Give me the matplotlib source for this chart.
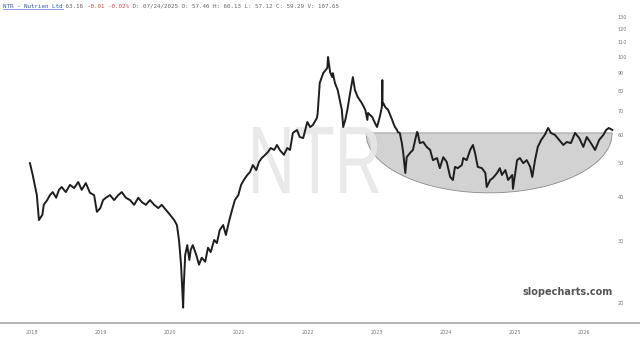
import numpy as np
import matplotlib
matplotlib.use("Agg")
import matplotlib.pyplot as plt
from matplotlib.patches import Polygon, PathPatch
from matplotlib.textpath import TextPath
from matplotlib.font_manager import FontProperties
from matplotlib.transforms import Affine2D, IdentityTransform

# NTR price path (decimal year, price)
years = [2017.97, 2018.01, 2018.04, 2018.07, 2018.10, 2018.15, 2018.17, 2018.22, 2018.26, 2018.30,
         2018.35, 2018.39, 2018.43, 2018.49, 2018.55, 2018.61, 2018.67, 2018.72, 2018.78, 2018.84,
         2018.90, 2018.94, 2018.99, 2019.03, 2019.07, 2019.13, 2019.19, 2019.25, 2019.30, 2019.36,
         2019.42, 2019.48, 2019.54, 2019.59, 2019.65, 2019.71, 2019.77, 2019.83, 2019.88, 2019.94,
         2020.00, 2020.06, 2020.10, 2020.13, 2020.16, 2020.19, 2020.20, 2020.22, 2020.25, 2020.28,
         2020.30, 2020.33, 2020.38, 2020.42, 2020.46, 2020.51, 2020.55, 2020.59, 2020.64, 2020.68,
         2020.72, 2020.77, 2020.81, 2020.86, 2020.90, 2020.94, 2020.99, 2021.03, 2021.07, 2021.12,
         2021.16, 2021.20, 2021.25, 2021.29, 2021.33, 2021.38, 2021.42, 2021.46, 2021.51, 2021.55,
         2021.59, 2021.65, 2021.70, 2021.74, 2021.78, 2021.84, 2021.88, 2021.93, 2021.99, 2022.03,
         2022.07, 2022.13, 2022.14, 2022.17, 2022.22, 2022.28, 2022.29, 2022.32, 2022.35, 2022.36,
         2022.39, 2022.43, 2022.46, 2022.49, 2022.51, 2022.54, 2022.57, 2022.61, 2022.65, 2022.68,
         2022.72, 2022.78, 2022.83, 2022.86, 2022.87, 2022.93, 2022.97, 2023.00, 2023.04, 2023.07,
         2023.077, 2023.081, 2023.09, 2023.12, 2023.16, 2023.22, 2023.23, 2023.26, 2023.29, 2023.30,
         2023.33, 2023.36, 2023.38, 2023.41, 2023.43, 2023.48, 2023.52, 2023.58, 2023.59, 2023.62,
         2023.67, 2023.72, 2023.77, 2023.81, 2023.87, 2023.91, 2023.96, 2024.01, 2024.06, 2024.10,
         2024.13, 2024.17, 2024.23, 2024.25, 2024.30, 2024.35, 2024.39, 2024.42, 2024.46, 2024.52,
         2024.57, 2024.59, 2024.64, 2024.68, 2024.74, 2024.78, 2024.81, 2024.86, 2024.90, 2024.96,
         2024.97, 2025.03, 2025.07, 2025.12, 2025.17, 2025.22, 2025.25, 2025.29, 2025.33, 2025.38,
         2025.43, 2025.48, 2025.52, 2025.58, 2025.64, 2025.70, 2025.75, 2025.81, 2025.87, 2025.93,
         2025.99, 2026.04, 2026.10, 2026.16, 2026.22, 2026.28, 2026.32, 2026.36, 2026.41]
prices = [49.9, 46.2, 43.3, 40.5, 34.4, 35.6, 38.0, 39.2, 40.5, 41.3,
          39.8, 41.9, 42.7, 41.3, 43.3, 42.4, 44.1, 41.9, 43.8, 41.1,
          40.5, 36.3, 37.2, 39.2, 39.8, 40.5, 39.2, 40.5, 41.3, 39.8,
          39.2, 38.0, 39.8, 38.7, 38.0, 39.2, 38.0, 37.2, 38.0, 36.8,
          35.6, 34.4, 33.3, 30.2, 25.7, 19.4, 22.5, 27.4, 29.2, 26.5,
          28.3, 29.2, 27.4, 25.7, 26.9, 26.2, 28.7, 27.9, 30.2, 29.6,
          32.2, 33.3, 31.2, 34.4, 36.8, 39.2, 40.5, 43.3, 44.7, 46.2,
          47.1, 49.3, 47.7, 50.3, 51.6, 52.7, 53.7, 55.1, 54.4, 56.2,
          54.4, 52.7, 55.1, 54.4, 60.8, 62.0, 59.2, 58.8, 65.3, 63.2,
          64.0, 67.1, 69.3, 84.3, 89.9, 93.0, 99.9, 90.5, 87.6, 89.9,
          84.3, 80.5, 75.4, 70.7, 63.2, 66.2, 70.7, 78.9, 87.6, 80.5,
          76.9, 73.9, 70.7, 66.2, 69.3, 67.5, 64.9, 63.2, 67.5, 72.0,
          85.9, 73.0, 73.9, 72.0, 70.7, 66.2, 65.3, 63.2, 62.0, 61.2,
          60.8, 56.9, 53.4, 46.8, 51.9, 53.4, 54.4, 61.2, 60.8, 56.9,
          57.3, 55.5, 54.4, 50.9, 51.6, 48.3, 51.9, 50.3, 45.6, 44.7,
          48.7, 48.3, 49.3, 51.6, 50.9, 54.4, 56.2, 53.4, 48.7, 48.3,
          46.8, 42.7, 44.7, 45.3, 46.8, 48.3, 46.2, 47.7, 44.7, 46.2,
          42.2, 50.9, 51.6, 49.9, 50.9, 48.7, 45.6, 50.9, 55.5, 58.1,
          60.0, 62.8, 60.8, 60.0, 58.1, 56.2, 57.3, 56.9, 60.8, 58.8,
          55.5, 59.2, 56.9, 54.4, 58.1, 60.0, 62.0, 62.8, 62.0]

# rounded-bottom (cup) annotation
cup_start, cup_end = 2022.84, 2026.41
cup_top, cup_bottom = 60.8, 41.1

year_ticks = [2018, 2019, 2020, 2021, 2022, 2023, 2024, 2025, 2026]
price_ticks = [20, 30, 40, 50, 60, 70, 80, 90, 100, 110, 120, 130]

header_parts = [
    ("NTR - Nutrien Ltd", "#3355bb"),
    (" 63.16 ", "#666666"),
    ("-0.01 -0.02%", "#dd4444"),
    (" D: 07/24/2025 O: 57.46 H: 60.13 L: 57.12 C: 59.29 V: 107.65", "#666666"),
]

fig = plt.figure(figsize=(6.4, 3.37), dpi=100)
ax = fig.add_axes([0, 14 / 337, 615 / 640, 323 / 337])
ax.set_yscale("log")
ax.set_xlim(2017.536, 2026.449)
ax.set_ylim(17.55, 145.0)

# cup shape: lower half ellipse in log space
t = np.linspace(cup_start, cup_end, 200)
c = (cup_start + cup_end) / 2
a = (cup_end - cup_start) / 2
lt, lb = np.log(cup_top), np.log(cup_bottom)
curve = np.exp(lt - (lt - lb) * np.sqrt(np.clip(1 - ((t - c) / a) ** 2, 0, 1)))
pts = np.column_stack([np.r_[t, cup_start], np.r_[curve, cup_top]])
ax.add_patch(Polygon(pts, closed=True, facecolor="#d2d2d2", edgecolor="#8a8a8a",
                     linewidth=0.6, zorder=1))

# watermark, squeezed into its box (pixels from bottom-left)
tp = TextPath((0, 0), "NTR", size=100, prop=FontProperties(family="Liberation Sans"))
ext = tp.get_extents()
box_x0, box_x1, box_y0, box_y1 = 253, 379, 337 - 193, 337 - 127
wm_tr = (Affine2D().translate(-ext.x0, -ext.y0)
         .scale((box_x1 - box_x0) / ext.width, (box_y1 - box_y0) / ext.height)
         .translate(box_x0, box_y0))
wm = PathPatch(wm_tr.transform_path(tp), facecolor="#e7e7e7", edgecolor="none",
               alpha=0.9, transform=IdentityTransform(), zorder=2)
ax.add_artist(wm)

ax.plot(years, prices, color="#1e1e1e", linewidth=1.4, zorder=3)

ax.yaxis.tick_right()
ax.set_yticks(price_ticks)
ax.set_yticklabels([str(p) for p in price_ticks])
ax.yaxis.set_minor_locator(matplotlib.ticker.NullLocator())
ax.set_xticks(year_ticks)
ax.set_xticklabels([str(y) for y in year_ticks])
ax.tick_params(axis="both", length=0, labelsize=3.5, colors="#777777")
ax.tick_params(axis="y", pad=2)
ax.tick_params(axis="x", pad=5)
for s in ax.spines.values():
    s.set_visible(False)

fig.add_artist(plt.Line2D([0, 1], [14 / 337, 14 / 337], color="#aaaaaa", linewidth=1.2))

# header line
xpos = 3
cw = 3.5
for txt, col in header_parts:
    fig.text(xpos / 640, 1 - 6 / 337, txt, color=col, family="DejaVu Sans Mono",
             fontsize=4.2, va="center", ha="left")
    xpos += cw * len(txt)
fig.add_artist(plt.Line2D([3 / 640, (3 + cw * 17) / 640], [1 - 9 / 337, 1 - 9 / 337],
                          color="#3355bb", linewidth=0.4))

fig.text(568 / 640, 1 - 292 / 337, "slopecharts.com", ha="center", va="center",
         fontsize=7, weight="bold", color="#555555")

fig.savefig("out.png", dpi=100)
